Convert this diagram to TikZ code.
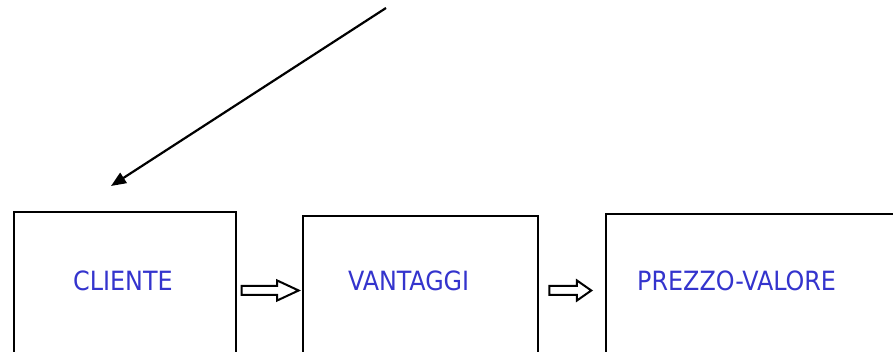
\documentclass[tikz,border=0pt]{standalone}
\usepackage{fontspec}
\newfontfamily\labelfont{DejaVu Sans Condensed}
\usetikzlibrary{arrows.meta,shapes.arrows}
\definecolor{labelblue}{RGB}{52,52,205}

\begin{document}
\begin{tikzpicture}[x=1pt,y=1pt,>={Triangle[length=15pt,width=12pt]},
  box/.style={draw,line width=2.8pt,minimum height=150pt,inner sep=0pt},
  lbl/.style={anchor=base west,inner sep=0pt,text=labelblue,font=\labelfont\fontsize{26.5}{30}\selectfont},
  hollow/.style={single arrow,draw,line width=2pt,inner sep=3.5pt,single arrow head extend=5.5pt,fill=white,anchor=tip}]

  \clip (0,0) rectangle (893,352);

  % the three boxes
  \node[box,minimum width=222pt] (cliente)  at (125,65)   {};
  \node[box,minimum width=235pt] (vantaggi) at (420.5,61) {};
  \node[box,minimum width=300pt] (prezzo)   at (756,63)   {};

  \node[lbl] (t1) at (73,61)  {CLIENTE};
  \node[lbl] (t2) at (348,61) {VANTAGGI};
  \node[lbl] (t3) at (637,61) {PREZZO-VALORE};

  % hollow arrows between boxes
  \node[hollow,minimum height=57pt,single arrow tip angle=50] (a1) at (301,61.5) {};
  \node[hollow,minimum height=42pt,single arrow tip angle=70] (a2) at (593,61.5) {};

  % incoming arrow
  \coordinate (from) at (386,344);
  \coordinate (tip)  at (111,166);
  \draw[->,line width=2.2pt] (from) -- (tip);
\end{tikzpicture}
\end{document}
